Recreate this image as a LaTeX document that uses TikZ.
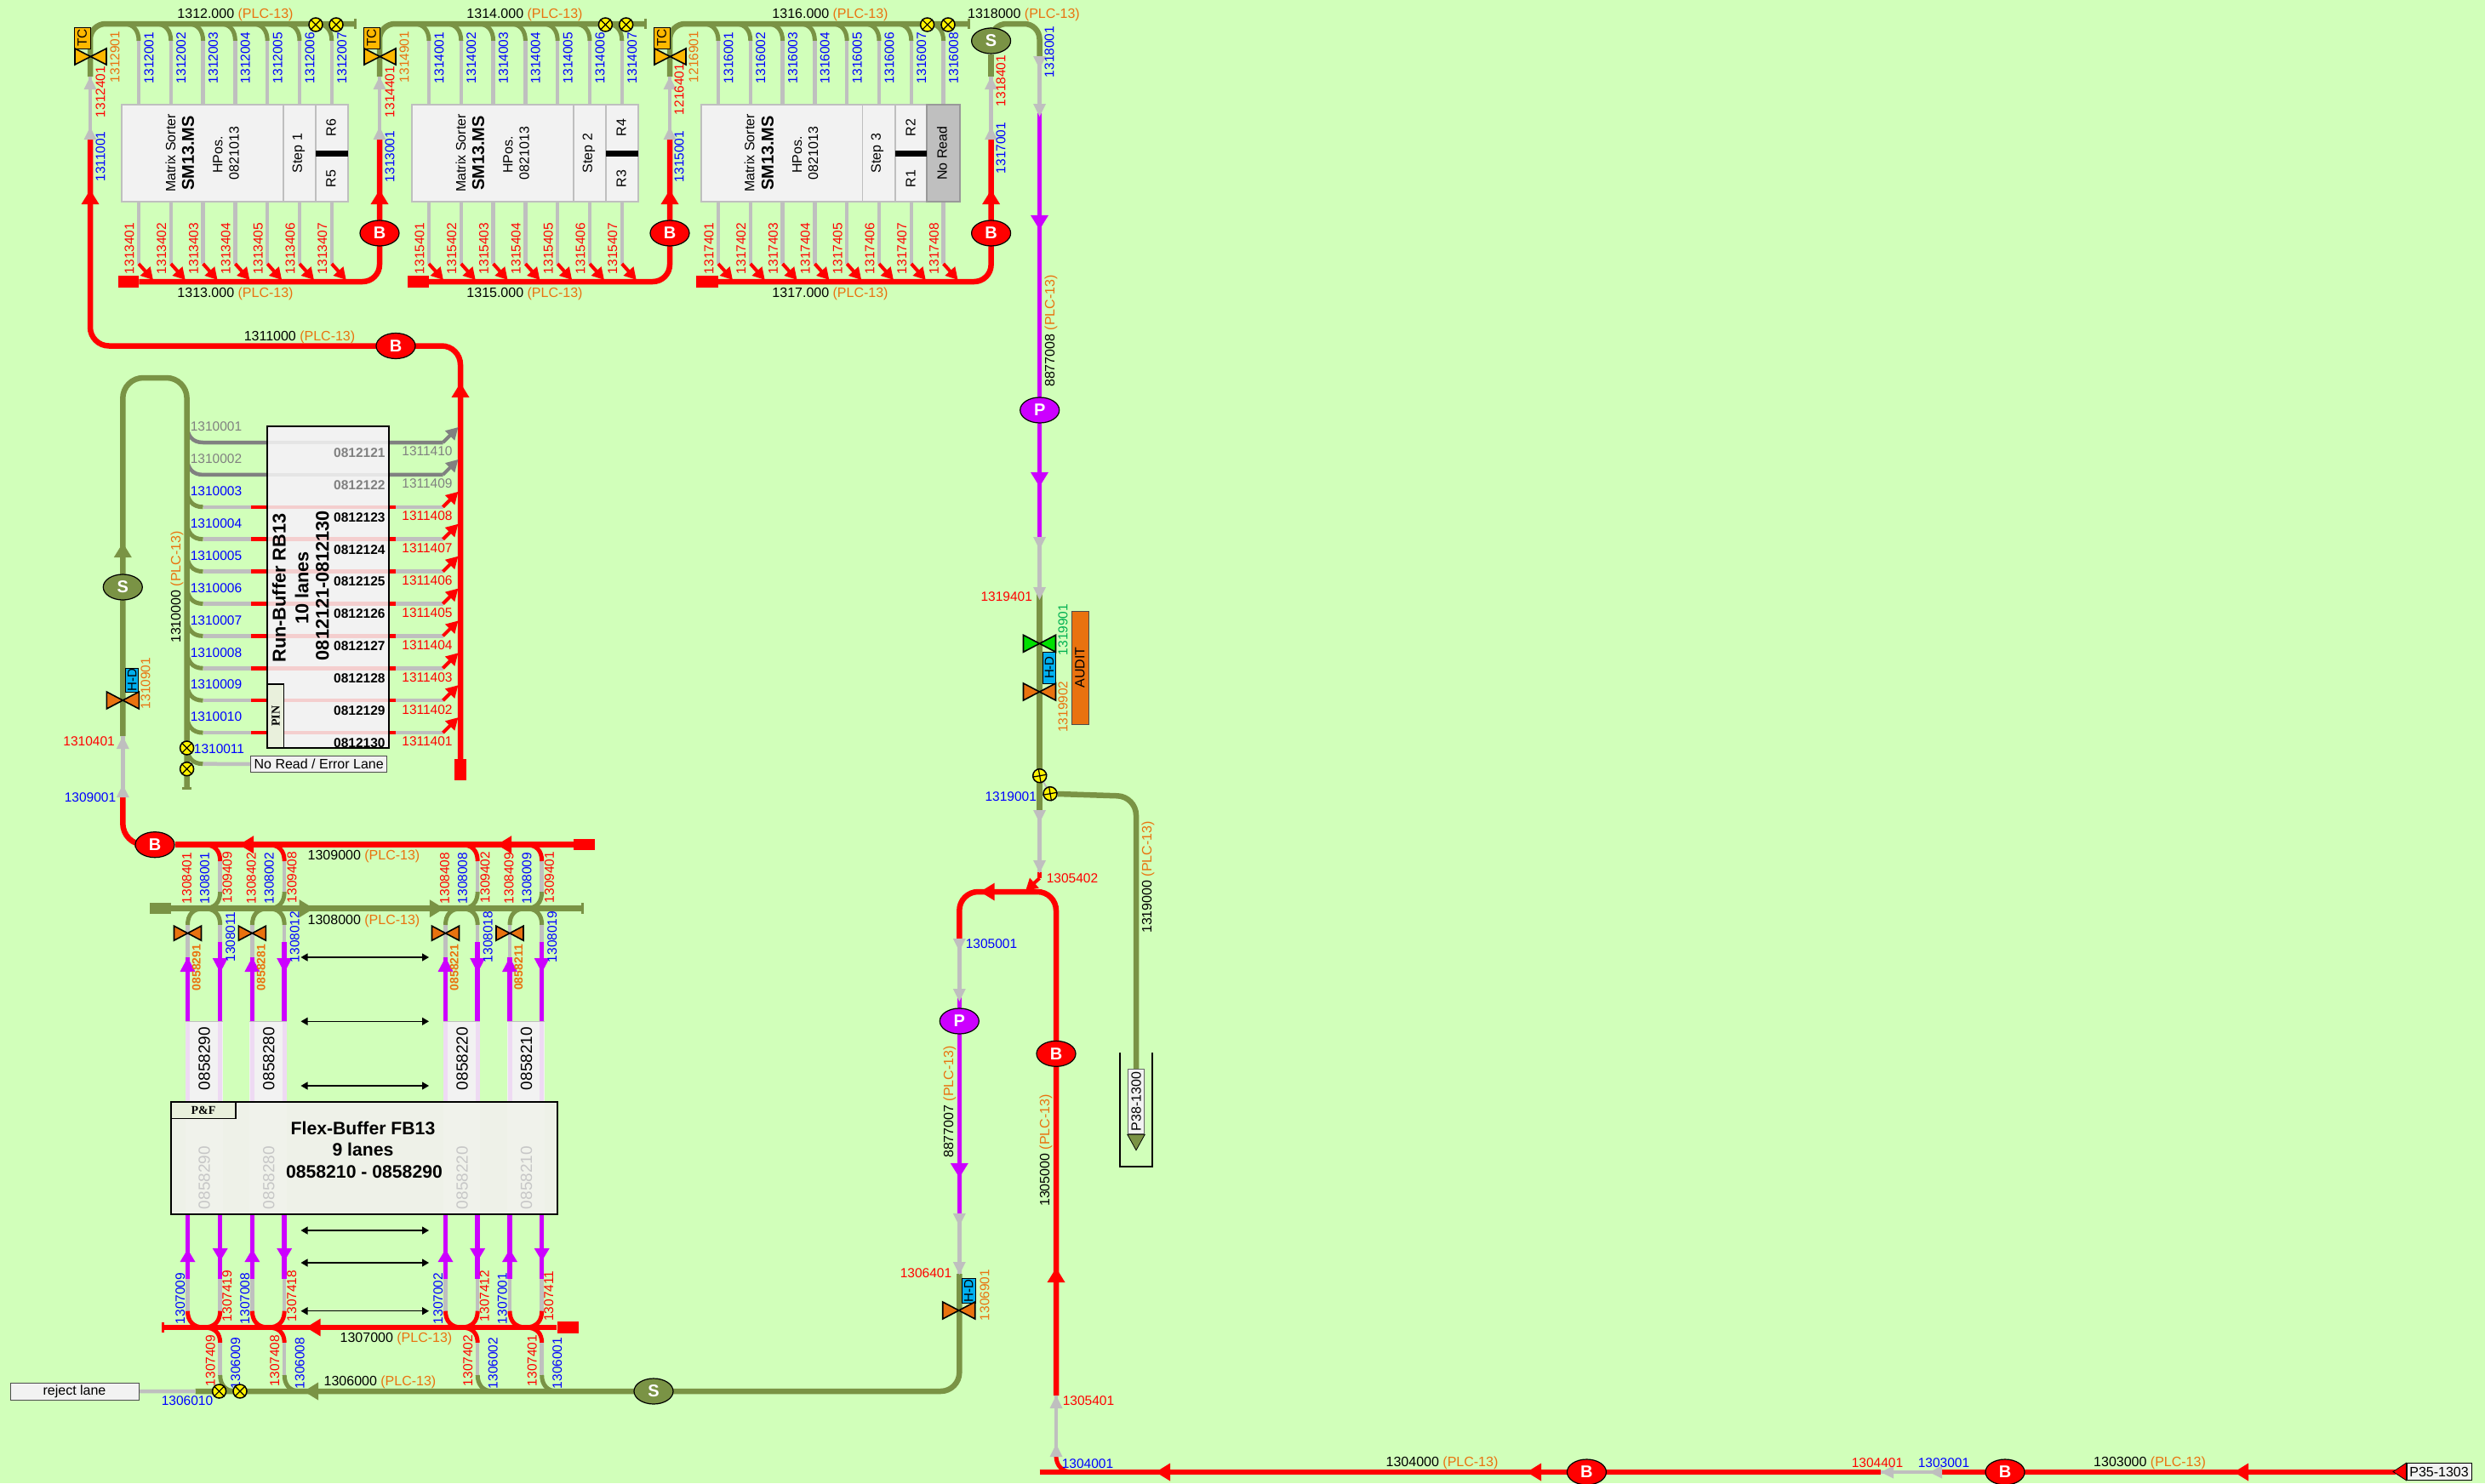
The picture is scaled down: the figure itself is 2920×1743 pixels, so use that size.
\documentclass[tikz,border=0pt]{standalone}
\usepackage{fontspec}
\setmainfont{Liberation Sans}
\newfontfamily\pinfont{Liberation Serif}
\usetikzlibrary{arrows.meta,shapes.geometric,backgrounds}
\definecolor{cbg}{HTML}{D1FFBA}
\definecolor{cgrn}{HTML}{7A9345}
\definecolor{cgry}{HTML}{BFBFBF}
\definecolor{cdgr}{HTML}{808080}
\definecolor{cpur}{HTML}{CC00FF}
\definecolor{cblu}{HTML}{0000FF}
\definecolor{corg}{HTML}{E9720F}
\definecolor{chd}{HTML}{00B0F0}
\definecolor{ctc}{HTML}{FFB800}
\definecolor{cpin}{HTML}{E9F0DC}
\definecolor{cbox}{HTML}{F2F2F2}
\definecolor{cvgr}{HTML}{00E000}
\definecolor{clgn}{HTML}{00B050}
\newcommand\fs[1]{\fontsize{#1}{#1}\selectfont}
\newcommand\plc{\textcolor{corg}{(PLC-13)}}
\newcounter{nn}
\newcommand\VT[4]{\stepcounter{nn}\node[lbl,text=#1,rotate=90] (t\arabic{nn}) at (#2,#3) {#4};}
\newcommand\HT[4]{\stepcounter{nn}\node[lbl,text=#1] (t\arabic{nn}) at (#2,#3) {#4};}
% filled arrow head: colour, tip x, tip y, direction, length, width
\newcommand\tipmark[6]{\fill[#1,shift={(#2,#3)},rotate=#4] (0,0)--(-#5,-#6/2)--(-#5,#6/2)--cycle;}
\newcommand\grayup[2]{\tipmark{cgry}{#1}{#2}{90}{15}{15}}
\newcommand\graydn[2]{\tipmark{cgry}{#1}{#2}{270}{15}{15}}
\newcommand\bigtip[4]{\tipmark{#1}{#2}{#3}{#4}{17}{21}}
\newcommand\valve[3]{\draw[valveline,fill=#3] (#1-19,#2-10)--(#1+19,#2+10)--(#1+19,#2-10)--(#1-19,#2+10)--cycle;}
\newcommand\lanevalve[3]{\draw[valveline,fill=#3] (#1-16,#2-8.5)--(#1+16,#2+8.5)--(#1+16,#2-8.5)--(#1-16,#2+8.5)--cycle;}
\newcommand\xmark[3]{\node[markc] (#1) at (#2,#3) {};\draw[line width=1.2] (#1.45)--(#1.225) (#1.135)--(#1.315);}
\newcommand\pmark[3]{\node[markc] (#1) at (#2,#3) {};\draw[line width=1.2] (#1.10)--(#1.190) (#1.100)--(#1.280);}
\newcommand\tcmark[1]{%
  \node[tcbox] (tc#1) at (#1-9.5,44.5) {\rotatebox{90}{TC}};
  \draw[valveline,fill=ctc] (#1-18,57)--(#1+19,76)--(#1+19,57)--(#1-18,76)--cycle;}
\newcommand\hdbox[4]{\node[hdstyle,minimum height=#4] (hd#1) at (#2,#3) {\rotatebox{90}{H-D}};}
% lanes of one sorter: id, first x, count, blue prefix, red prefix
\newcommand\sorterrow[5]{%
  \foreach \i in {1,...,#3}{%
    \pgfmathsetmacro\xx{#2+37.8*(\i-1)}
    \coordinate (#1a\i) at (\xx-18,28);
    \coordinate (#1b\i) at (\xx,48);
    \coordinate (#1c\i) at (\xx,310);
    \coordinate (#1d\i) at (\xx+17,329);
    \begin{scope}[on background layer]
      \draw[grnb] (#1a\i) .. controls (\xx-6,28) and (\xx,36) .. (#1b\i);
      \draw[gryl] (#1b\i) -- (#1c\i);
      \draw[reddiag] (#1c\i) -- (#1d\i);
    \end{scope}
    \VT{cblu}{\xx+12}{68}{#4\i}
    \VT{red}{\xx-11}{292}{#5\i}
  }}
\newcommand\sorterbox[3]{% id, x offset from first, step text
  \node[sbox,minimum width=266,minimum height=114] (#1) at (#2+276,180) {};
  \node[sbox,minimum width=76,minimum height=114] (#1s) at (#2+371,180) {};
  \node[sbox,minimum width=38,minimum height=114] (#1r) at (#2+390,180) {};
  \fill[black] (#2+371,176.5) rectangle (#2+409,183.5);
  \VT{black}{#2+200.5}{180}{\fs{16}Matrix Sorter}
  \VT{black}{#2+221}{180}{\fs{20}\bfseries SM13.MS}
  \VT{black}{#2+256}{182}{\fs{16}HPos.}
  \VT{black}{#2+275}{180}{\fs{16}0821013}
  \VT{black}{#2+351}{180}{\fs{16}Step #3}
}
\tikzset{
  lbl/.style={inner sep=0,font=\fs{15.5}},
  redl/.style={draw=red,line width=6.5},
  grnl/.style={draw=cgrn,line width=6.5},
  grnb/.style={draw=cgrn,line width=5},
  gryl/.style={draw=cgry,line width=4.5},
  purl/.style={draw=cpur,line width=5.5},
  redb/.style={draw=red,line width=5},
  reddiag/.style={draw=red,line width=4,-{Triangle[length=14pt,width=15pt]}},
  gradiag/.style={draw=cdgr,line width=4,-{Triangle[length=14pt,width=15pt]}},
  dgrl/.style={draw=cdgr,line width=4.5},
  ball/.style={ellipse,draw=black,line width=1.2,minimum width=46,minimum height=30,inner sep=0,text=white,font=\fs{20}\bfseries},
  sbox/.style={rectangle,draw=cgry,line width=1.5,fill=cbox,inner sep=0},
  bbox/.style={rectangle,draw=black,line width=2,fill=cbox,inner sep=0},
  tagbox/.style={rectangle,draw=black!70,line width=1,fill=cbox,inner sep=0,font=\fs{16}},
  pinbox/.style={rectangle,draw=black,line width=1.2,fill=cpin,inner sep=0,font=\pinfont\bfseries\fs{14}},
  redblock/.style={rectangle,fill=red,inner sep=0},
  grnblock/.style={rectangle,fill=cgrn,inner sep=0},
  markc/.style={circle,draw=black,line width=1.5,fill=yellow,minimum size=16,inner sep=0},
  valveline/.style={draw=black,line width=1.6,line join=miter},
  tcbox/.style={rectangle,draw=black,line width=1,fill=ctc,minimum width=19,minimum height=25,inner sep=0,font=\fs{15.5}},
  hdstyle/.style={rectangle,draw=black,line width=1,fill=chd,minimum width=15.5,inner sep=0,font=\fs{15}},
  thinarrow/.style={draw=black,line width=1.2,{Triangle[length=8pt,width=9pt]}-{Triangle[length=8pt,width=9pt]}},
  tbar/.style={draw=cgrn,line width=3},
}
\begin{document}
\begin{tikzpicture}[x=1pt,y=-1pt]
\path[use as bounding box] (0,0) rectangle (2920,1743);
\begin{scope}[on background layer]
  \fill[cbg] (0,0) rectangle (2920,1743);
\end{scope}

%% ---------- named nodes on the lines
\node[ball,fill=red] (bs1) at (446,274) {B};
\node[ball,fill=red] (bs2) at (787,274) {B};
\node[ball,fill=red] (bs3) at (1164.6,274) {B};
\node[ball,fill=red] (bmain) at (465,406.5) {B};
\node[ball,fill=red] (bin) at (182,992.7) {B};
\node[ball,fill=red] (bup) at (1241,1238.3) {B};
\node[ball,fill=red] (bl1) at (1864.4,1730) {B};
\node[ball,fill=red] (bl2) at (2356,1730) {B};
\node[ball,fill=cgrn] (sa) at (1164.6,48) {S};
\node[ball,fill=cgrn] (sb) at (144.3,690) {S};
\node[ball,fill=cgrn] (sc) at (768,1635) {S};
\node[ball,fill=cpur] (pa) at (1221.7,482) {P};
\node[ball,fill=cpur] (pb) at (1127.3,1200) {P};
\node[redblock,minimum width=24.5,minimum height=14] (k1) at (150.8,331) {};
\node[redblock,minimum width=25,minimum height=14] (k2) at (491,331) {};
\node[redblock,minimum width=26,minimum height=14] (k3) at (831,331) {};
\node[redblock,minimum width=14,minimum height=25] (k4) at (541,904.5) {};
\node[redblock,minimum width=24.6,minimum height=13] (k5) at (686.3,992.7) {};
\node[redblock,minimum width=25,minimum height=14] (k6) at (667,1560) {};
\node[grnblock,minimum width=25,minimum height=13.5] (k7) at (188.5,1067.7) {};

%% ---------- matrix sorters
\sorterbox{sm1}{0}{1}
\sorterbox{sm2}{341}{2}
\VT{black}{389}{150}{\fs{16}R6}
\VT{black}{389}{210}{\fs{16}R5}
\VT{black}{730}{150}{\fs{16}R4}
\VT{black}{730}{210}{\fs{16}R3}
\node[sbox,minimum width=304,minimum height=114] (sm3) at (976,180) {};
\node[sbox,minimum width=39,minimum height=114] (sm3s) at (1033,180) {};
\node[sbox,minimum width=37,minimum height=114] (sm3r) at (1070.5,180) {};
\node[rectangle,draw=black!40,line width=1.5,fill=cgry,minimum width=39,minimum height=114,inner sep=0] (sm3n) at (1108.5,180) {};
\fill[black] (1052,176.5) rectangle (1089,183.5);
\VT{black}{880.7}{180}{\fs{16}Matrix Sorter}
\VT{black}{902}{180}{\fs{20}\bfseries SM13.MS}
\VT{black}{936.8}{182}{\fs{16}HPos.}
\VT{black}{955.7}{180}{\fs{16}0821013}
\VT{black}{1031}{180}{\fs{16}Step 3}
\VT{black}{1070}{150}{\fs{16}R2}
\VT{black}{1070}{210}{\fs{16}R1}
\VT{black}{1107}{180}{\fs{16}No Read}
\sorterrow{sa}{163}{7}{131200}{131340}
\sorterrow{sb}{504}{7}{131400}{131540}
\sorterrow{sc}{844}{8}{131600}{131740}

\coordinate (v1) at (106,90);   \coordinate (v2) at (446,90);  \coordinate (v3) at (787,90);  \coordinate (v4) at (1164.6,90);
\coordinate (w1) at (106,160);  \coordinate (w2) at (446,160); \coordinate (w3) at (787,160); \coordinate (w4) at (1164.6,160);
\coordinate (e1) at (417,28);   \coordinate (e2) at (758,28);  \coordinate (e3) at (1138,28);
\coordinate (q0) at (1221.5,67); \coordinate (q1) at (1221.5,133); \coordinate (q2) at (1221.5,633);
\coordinate (q3) at (1221.5,690); \coordinate (q4) at (1221.5,955); \coordinate (q5) at (1221.5,1025);
\coordinate (q6) at (1221.5,1032); \coordinate (q7) at (1205,1047);
\begin{scope}[on background layer]
  \draw[grnl,rounded corners=18] (v1) -- (106,28) -- (e1);
  \draw[grnl,rounded corners=18] (v2) -- (446,28) -- (e2);
  \draw[grnl,rounded corners=18] (v3) -- (787,28) -- (e3);
  \draw[tbar] (417,22) -- (417,34);
  \draw[tbar] (758,22) -- (758,34);
  \draw[tbar] (1138,22) -- (1138,34);
  \draw[gryl] (v1) -- (w1); \draw[gryl] (v2) -- (w2); \draw[gryl] (v3) -- (w3); \draw[gryl] (v4) -- (w4);
  \draw[redl,rounded corners=22] (k4) -- (541,406.5) -- (106,406.5) -- (w1);
  \draw[redl,rounded corners=20] (k1) -- (446,331) -- (w2);
  \draw[redl,rounded corners=20] (k2) -- (787,331) -- (w3);
  \draw[redl,rounded corners=20] (k3) -- (1164.6,331) -- (w4);
  \draw[grnl] (v4) -- (sa);
  \draw[grnl,rounded corners=18] (sa) -- (1164.6,28) -- (1221.5,28) -- (q0);
  \draw[gryl] (q0) -- (q1);
  \draw[purl] (q1) -- (q2);
  \draw[gryl] (q2) -- (q3);
  \draw[grnl] (q3) -- (q4);
  \draw[gryl] (q4) -- (q5);
  \draw[redb] (q5) -- (q6);
  \draw[reddiag] (q6) -- (q7);
\end{scope}
\foreach \xv in {106,446,787,1164.6}{\grayup{\xv}{90}\grayup{\xv}{149}\bigtip{red}{\xv}{223}{90}}
\graydn{1221.5}{81}\graydn{1221.5}{137}
\bigtip{cpur}{1221.5}{270}{270}
\bigtip{cpur}{1221.5}{572}{270}
\graydn{1221.5}{646}\graydn{1221.5}{705}
\graydn{1221.5}{967}\graydn{1221.5}{1026}
\tcmark{106}\tcmark{446}\tcmark{787}
\xmark{ma}{371}{29}\xmark{mb}{395}{29}\xmark{mc}{711.4}{29}\xmark{md}{735.7}{29}\xmark{me}{1089.6}{29}\xmark{mf}{1114}{29}

\HT{black}{276.5}{17}{\fs{16}1312.000 \plc}
\HT{black}{616.5}{17}{\fs{16}1314.000 \plc}
\HT{black}{975.5}{17}{\fs{16}1316.000 \plc}
\HT{black}{1203}{17}{\fs{16}1318000 \plc}
\HT{black}{276.5}{345}{\fs{16}1313.000 \plc}
\HT{black}{616.5}{345}{\fs{16}1315.000 \plc}
\HT{black}{975.5}{345}{\fs{16}1317.000 \plc}
\HT{black}{352}{396}{\fs{16}1311000 \plc}
\VT{cblu}{118}{184}{1311001}\VT{red}{118}{108}{1312401}\VT{corg}{135}{67}{1312901}
\VT{cblu}{458}{184}{1313001}\VT{red}{458}{108}{1314401}\VT{corg}{475}{67}{1314901}
\VT{cblu}{798}{184}{1315001}\VT{red}{798}{105}{1216401}\VT{corg}{815}{67}{1216901}
\VT{cblu}{1176}{174}{1317001}\VT{red}{1176}{95}{1318401}\VT{cblu}{1233}{61}{1318001}
\VT{black}{1235}{389}{\fs{16}8877008 \plc}

%% ---------- run buffer
\node[bbox,minimum width=143,minimum height=378] (rb) at (385.5,690) {};
\foreach \i/\ln/\rn/\bn in {1/1310001/1311410/0812121,2/1310002/1311409/0812122}{%
  \pgfmathsetmacro\yy{520+37.9*(\i-1)}
  \coordinate (ra\i) at (219.6,\yy-22); \coordinate (rb\i) at (238.5,\yy);
  \coordinate (rc\i) at (520.5,\yy);    \coordinate (rd\i) at (538.5,\yy-18);
  \begin{scope}[on background layer]
    \draw[dgrl] (ra\i) .. controls (219.6,\yy-8) and (226,\yy) .. (rb\i) -- (rc\i);
    \draw[gradiag] (rc\i) -- (rd\i);
  \end{scope}
  \draw[line width=4.5,black!10] (314+1,\yy) -- (457-1,\yy);
  \HT{cdgr}{254}{\yy-18.6}{\ln}
  \HT{cdgr}{502}{\yy+10.5}{\rn}
  \HT{cdgr}{422.4}{\yy+12}{\fs{15.5}\bfseries\bn}
}
\foreach \i/\ln/\rn/\bn in {3/1310003/1311408/0812123,4/1310004/1311407/0812124,5/1310005/1311406/0812125,6/1310006/1311405/0812126,7/1310007/1311404/0812127,8/1310008/1311403/0812128,9/1310009/1311402/0812129,10/1310010/1311401/0812130}{%
  \pgfmathsetmacro\yy{520+37.9*(\i-1)}
  \coordinate (ra\i) at (219.6,\yy-22); \coordinate (rb\i) at (238.5,\yy);
  \coordinate (re\i) at (295,\yy);      \coordinate (rf\i) at (465,\yy);
  \coordinate (rc\i) at (520.5,\yy);    \coordinate (rd\i) at (538.5,\yy-18);
  \begin{scope}[on background layer]
    \draw[grnb] (ra\i) .. controls (219.6,\yy-8) and (226,\yy) .. (rb\i);
    \draw[gryl] (rb\i) -- (re\i);
    \draw[line width=4.5,red] (re\i) -- (314,\yy) (457,\yy) -- (rf\i);
    \draw[gryl] (rf\i) -- (rc\i);
    \draw[reddiag] (rc\i) -- (rd\i);
  \end{scope}
  \draw[line width=4.5,red!15!cbox] (314+1,\yy) -- (457-1,\yy);
  \HT{cblu}{254}{\yy-18.6}{\ln}
  \HT{red}{502}{\yy+10.5}{\rn}
  \HT{black}{422.4}{\yy+12}{\fs{15.5}\bfseries\bn}
}
\node[pinbox,minimum width=19,minimum height=75] (pin) at (324,841.5) {\rotatebox{90}{PIN}};
\VT{black}{327.8}{691}{\fs{21.7}\bfseries Run-Buffer RB13}
\VT{black}{354.6}{691}{\fs{21.7}\bfseries 10 lanes}
\VT{black}{379}{688}{\fs{21.7}\bfseries 0812121-0812130}
\HT{cblu}{257.5}{880}{1310011}
\node[tagbox,minimum width=159.5,minimum height=19.5] (nr) at (374.7,898) {No Read / Error Lane};
\coordinate (ga) at (144.3,865); \coordinate (gb) at (144.3,936);
\coordinate (gc) at (219.6,926); \coordinate (gd) at (219.6,876); \coordinate (ge) at (238.5,897.7);
\begin{scope}[on background layer]
  \draw[grnl,rounded corners=24] (ga) -- (144.3,444) -- (219.6,444) -- (gc);
  \draw[tbar] (214,926) -- (225,926);
  \draw[gryl] (ga) -- (gb);
  \draw[redl,rounded corners=25] (gb) -- (144.3,992.7) -- (bin);
  \draw[redl] (k5) -- (bin);
  \draw[grnb] (gd) .. controls (219.6,890) and (226,897.7) .. (ge);
  \draw[gryl] (ge) -- (nr);
\end{scope}
\xmark{mg}{219.6}{879}\xmark{mh}{219.6}{903.7}
\bigtip{cgrn}{144.3}{638}{90}
\grayup{144.3}{865}\grayup{144.3}{922}
\bigtip{red}{541}{450}{90}
\bigtip{red}{281}{992.7}{180}
\bigtip{red}{584}{992.7}{180}
\hdbox{a}{155.2}{799}{28}
\valve{144.3}{823}{corg}
\VT{corg}{171}{803}{1310901}
\HT{red}{104.6}{870.7}{1310401}
\HT{cblu}{106}{937}{1309001}
\VT{black}{208}{690}{\fs{16}1310000 \plc}

%% ---------- flex buffer
\foreach \a/\b in {220.5/258.7,296.4/334.2,523.5/561.2,599/636.7}{%
  \fill[cbox] (\a-3,1200) rectangle (\b+3,1295);
  \draw[line width=5,cpur!10!cbox] (\a,1200) -- (\a,1295) (\b,1200) -- (\b,1295);
  \draw[line width=1,cgry] (\a-3,1200) -- (\b+3,1200);
}
\node[bbox,minimum width=454,minimum height=132,fill=cpin!45!cbox] (fb) at (428,1361) {};
\foreach \a/\b in {220.5/258.7,296.4/334.2,523.5/561.2,599/636.7}{%
  \fill[black!3,opacity=.25] (\a-3,1296) rectangle (\b+3,1426);
}
\foreach \id/\a/\b/\ra/\ba/\rb/\bb/\og/\nm/\ub/\ur/\lr/\lb/\xi/\xj in {%
  1/220.5/258.7/1308401/1308001/1309409/1308011/0858291/0858290/1307009/1307419/1307409/1306009/211.7/266.8,
  2/296.4/334.2/1308402/1308002/1309408/1308012/0858281/0858280/1307008/1307418/1307408/1306008/287.8/342.9,
  3/523.5/561.2/1308408/1308008/1309402/1308018/0858221/0858220/1307002/1307412/1307402/1306002/514.8/569.4,
  4/599/636.7/1308409/1308009/1309401/1308019/0858211/0858210/1307001/1307411/1307401/1306001/590.3/644.9}{%
  \coordinate (fa\id) at (\a,1200);  \coordinate (fb\id) at (\a,1125);  \coordinate (fc\id) at (\a,1087);
  \coordinate (fd\id) at (\b,1087);  \coordinate (fe\id) at (\b,1107);  \coordinate (ff\id) at (\b,1200);
  \coordinate (fg\id) at (\b,1048);  \coordinate (fh\id) at (\b,1012);  \coordinate (fi\id) at (\b-19,992.7);
  \coordinate (fj\id) at (\a,1427);  \coordinate (fk\id) at (\a,1503);  \coordinate (fl\id) at (\a,1540.7);
  \coordinate (fm\id) at (\b,1427);  \coordinate (fn\id) at (\b,1503);  \coordinate (fo\id) at (\b,1540.7);
  \coordinate (fp\id) at (\b,1578);  \coordinate (fq\id) at (\b,1616);  \coordinate (fr\id) at (\b+18,1635);
  \coordinate (fs\id) at (\b-19,1560); \coordinate (ft\id) at (\a+19,1560);
  \coordinate (fu\id) at (\a+19,1067.7); \coordinate (fv\id) at (\b-19,1067.7);
  \begin{scope}[on background layer]
    \draw[purl] (fa\id) -- (fb\id);
    \draw[gryl] (fb\id) -- (fc\id);
    \draw[grnb] (fc\id) .. controls (\a,1075) and (\a+6,1067.7) .. (fu\id);
    \draw[grnb] (fd\id) .. controls (\b,1075) and (\b-6,1067.7) .. (fv\id);
    \draw[gryl] (fd\id) -- (fe\id);
    \draw[purl] (fe\id) -- (ff\id);
    \draw[grnb] (fv\id) .. controls (\b-6,1067.7) and (\b,1060) .. (fg\id);
    \draw[gryl] (fg\id) -- (fh\id);
    \draw[redb] (fh\id) .. controls (\b,1000) and (\b-6,992.7) .. (fi\id);
    \draw[purl] (fj\id) -- (fk\id);
    \draw[gryl] (fk\id) -- (fl\id);
    \draw[redb] (fl\id) .. controls (\a,1552) and (\a+6,1560) .. (ft\id);
    \draw[purl] (fm\id) -- (fn\id);
    \draw[gryl] (fn\id) -- (fo\id);
    \draw[redb] (fo\id) .. controls (\b,1552) and (\b-6,1560) .. (fs\id);
    \draw[redb] (fs\id) .. controls (\b-6,1560) and (\b,1567) .. (fp\id);
    \draw[gryl] (fp\id) -- (fq\id);
    \draw[grnb] (fq\id) .. controls (\b,1627) and (\b+6,1635) .. (fr\id);
  \end{scope}
  \tipmark{cpur}{\a}{1125}{90}{17}{18}
  \tipmark{cpur}{\b}{1143}{270}{17}{18}
  \tipmark{cpur}{\a}{1468}{90}{15}{18}
  \tipmark{cpur}{\b}{1482}{270}{15}{18}
  \lanevalve{\a}{1096.7}{corg}
  \VT{red}{\a-1}{1032}{\ra}
  \VT{cblu}{\a+20}{1032}{\ba}
  \VT{red}{\a+46.6}{1031}{\rb}
  \VT{cblu}{\b+12}{1101}{\bb}
  \VT{corg}{\a+10.4}{1137}{\fs{14}\bfseries\og}
  \VT{black}{\a+19.5}{1244}{\fs{19}\nm}
  \VT{black!22}{\a+19.5}{1384}{\fs{19}\nm}
  \VT{cblu}{\xi}{1526}{\ub}
  \VT{red}{\xj}{1523}{\ur}
  \VT{red}{\b-11.3}{1599}{\lr}
  \VT{cblu}{\b+18}{1602}{\lb}
}
\node[pinbox,minimum width=76,minimum height=19] (pf) at (239,1305) {P\&F};
\HT{black}{426.5}{1325.7}{\fs{21.2}\bfseries Flex-Buffer FB13}
\HT{black}{426.5}{1350.7}{\fs{21.2}\bfseries 9 lanes}
\HT{black}{428}{1376.7}{\fs{21.2}\bfseries 0858210 - 0858290}
\foreach \yy/\n in {1125/a,1200.3/b,1276/c,1446/d,1484/e,1540.7/f}{%
  \coordinate (da\n) at (353.5,\yy); \coordinate (db\n) at (504,\yy);
  \draw[thinarrow] (da\n) -- (db\n);
}

\node[tagbox,minimum width=151,minimum height=19.5] (rj) at (87.5,1635.3) {reject lane};
\coordinate (ha) at (191,1560);  \coordinate (hb) at (684.5,1067.7);
\coordinate (hc) at (229.6,1635); \coordinate (hd) at (1127.3,1497);
\begin{scope}[on background layer]
  \draw[grnl] (k7) -- (hb);
  \draw[tbar] (684.5,1061) -- (684.5,1074);
  \draw[redl] (k6) -- (ha);
  \draw[draw=red,line width=3] (191,1554) -- (191,1566);
  \draw[grnl,rounded corners=22] (hd) -- (1127.3,1635) -- (hc);
  \draw[gryl] (hc) -- (rj);
\end{scope}
\bigtip{cgrn}{368.7}{1067.7}{0}
\bigtip{cgrn}{521.8}{1067.7}{0}
\bigtip{red}{359.7}{1560}{180}
\bigtip{cgrn}{357}{1635}{180}
\HT{black}{427.5}{1006}{\fs{16}1309000 \plc}
\HT{black}{427.5}{1082.3}{\fs{16}1308000 \plc}
\HT{black}{465.5}{1573}{\fs{16}1307000 \plc}
\HT{black}{446.5}{1624}{\fs{16}1306000 \plc}
\HT{cblu}{220}{1646}{1306010}
\xmark{mi}{257.6}{1635}\xmark{mj}{282}{1635}

%% ---------- right part
\node[rectangle,draw=black!70,line width=1,fill=corg,minimum width=20,minimum height=133,inner sep=0] (aud) at (1269,784.5) {\rotatebox{90}{\fs{16}AUDIT}};
\hdbox{b}{1233}{784.5}{37}
\valve{1221.5}{756.3}{cvgr}
\valve{1221.5}{813}{corg}
\VT{clgn}{1249}{740}{1319901}
\VT{corg}{1249}{830.6}{1319902}
\HT{red}{1182.7}{700.7}{1319401}
\HT{cblu}{1187.7}{936}{1319001}
\HT{red}{1260}{1032.3}{1305402}
\HT{cblu}{1165}{1109}{1305001}
\pmark{mk}{1221.7}{911.7}
\pmark{ml}{1234}{932.7}
\node[rectangle,draw=black!60,line width=1,fill=cbox,minimum width=19.5,minimum height=76,inner sep=0,font=\fs{16}] (p38) at (1335,1294.7) {\rotatebox{90}{P38-1300}};
\draw[draw=black,line width=.8,fill=cgrn] (p38.south west) -- (p38.south east) -- (1335,1351.7) -- cycle;
\draw[line width=2.4] (1316,1237.3) -- (1316,1370.7) -- (1354,1370.7) -- (1354,1237.3);
\coordinate (ja) at (1241,1640);  \coordinate (jb) at (1241,1711);
\coordinate (jc) at (1127.3,1107); \coordinate (jd) at (1127.3,1163);
\coordinate (je) at (1127.3,1427); \coordinate (jf) at (1260,1730);
\coordinate (jg) at (1221.7,1730); \coordinate (jh) at (2210,1730);
\coordinate (ji) at (2280,1730);   \coordinate (jj) at (2815,1730);
\begin{scope}[on background layer]
  \draw[gryl,line width=2] (mk) -- (ml);
  \draw[grnl,rounded corners=22] (ml) -- (1335,936) -- (p38);
  \draw[redl,rounded corners=22] (ja) -- (1241,1048) -- (1127.3,1048) -- (jc);
  \draw[gryl] (jc) -- (jd);
  \draw[purl] (jd) -- (je);
  \draw[gryl] (je) -- (hd);
  \draw[gryl] (ja) -- (jb);
  \draw[redb] (jb) .. controls (1241,1722) and (1248,1730) .. (jf);
  \draw[redl] (jg) -- (jh);
  \draw[gryl] (jh) -- (ji);
  \draw[redl] (ji) -- (jj);
\end{scope}
\graydn{1127.3}{1118}\graydn{1127.3}{1177}
\bigtip{cpur}{1127.3}{1384}{270}
\graydn{1127.3}{1441}\graydn{1127.3}{1498}
\bigtip{red}{1151.7}{1048}{180}
\bigtip{red}{1241}{1490}{90}
\grayup{1241}{1640}\grayup{1241}{1697}
\hdbox{c}{1138.3}{1517}{29}
\valve{1126.7}{1540}{corg}
\VT{corg}{1157}{1522}{1306901}
\HT{red}{1088}{1495.7}{1306401}
\VT{black}{1116}{1295}{\fs{16}8877007 \plc}
\VT{black}{1229}{1352}{\fs{16}1305000 \plc}
\VT{black}{1349}{1031}{\fs{16}1319000 \plc}
\HT{red}{1279}{1645.7}{1305401}
\HT{cblu}{1278}{1720}{1304001}
\tipmark{red}{1358}{1730}{180}{17}{21}
\tipmark{red}{1794}{1730}{180}{17}{21}
\tipmark{red}{2625}{1730}{180}{17}{21}
\tipmark{cgry}{2210}{1730}{180}{15}{15}
\tipmark{cgry}{2267}{1730}{180}{15}{15}
\HT{black}{1694.5}{1719}{\fs{16}1304000 \plc}
\HT{red}{2206}{1719}{1304401}
\HT{cblu}{2284}{1719}{1303001}
\HT{black}{2526}{1719}{\fs{16}1303000 \plc}
\node[tagbox,draw=black,minimum width=76,minimum height=19.5] (p35) at (2866,1729.5) {P35-1303};
\draw[draw=black,line width=.8,fill=red] (p35.north west) -- (p35.south west) -- (2812,1729.5) -- cycle;
\end{tikzpicture}
\end{document}
